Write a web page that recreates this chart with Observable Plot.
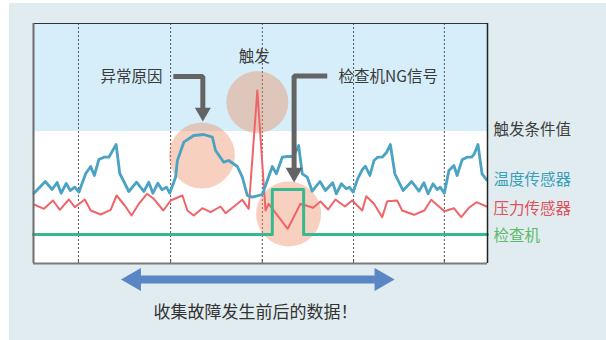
<!DOCTYPE html>
<html><head><meta charset="utf-8">
<script src="https://cdn.jsdelivr.net/npm/d3@7"></script>
<script src="https://cdn.jsdelivr.net/npm/@observablehq/plot@0.6"></script>
<style>
html,body{margin:0;padding:0;background:#fff;}
#wrap{position:relative;width:606px;height:340px;overflow:hidden;}
#panel{position:absolute;left:9px;top:3px;width:597px;height:337px;background:#e0ecef;}
#chart{position:absolute;left:0;top:0;}
</style></head>
<body><div id="wrap"><div id="panel"></div><div id="chart"></div></div>
<script>
// ---- data (time units 0..100, value units 0..240) ----
const timeDomain = [0, 100];
const valueDomain = [0, 240];
const triggerValue = 132;
const gridTimes = [9.9, 30.2, 50.4, 70.5, 90.5];

const temperature = [
 [0.1,70.3],[2.6,82],[4.1,74],[5.2,81],[6.1,70.3],[7.2,80],[8.1,73],[9.1,76.3],[10.0,71.3],
 [11.5,90],[12.6,97],[13.4,88],[14.4,104],[15.5,106.3],[16.6,106.3],[18.2,119],[19.0,90],
 [21.0,72],[22.7,81.3],[24.3,72],[25.4,81.3],[26.3,70.3],[27.4,80.3],[28.3,73.7],[29.3,76.3],[30.0,70.3],
 [31.3,86.3],[31.7,103],[33.1,121.3],[35.3,128],[37.5,129],[39.4,126.3],[40.1,113],[41.9,101.3],[43.0,103],
 [44.9,97],[46.0,86.3],[47.1,68],[48.2,66.3],[50.4,69],[51.5,83],[52.6,97],[53.5,89.7],[54.8,106.3],
 [55.9,107],[57.3,107],[58.4,118],[59.2,89.7],[60.3,86.3],[61.4,72.3],[63.1,82],[64.3,73],[65.9,80.7],
 [66.7,69.7],[67.8,79.7],[68.9,74.7],[69.6,76.3],[70.4,71.3],[71.4,84.7],[72.4,93.7],[73.1,97.3],[74.1,88],
 [75.0,103],[75.8,106.3],[76.8,106.3],[77.8,111.3],[78.6,119],[79.6,89.7],[81.4,73],[83.3,82],[84.9,72.3],
 [86.0,80.7],[86.9,69.7],[88.0,79.7],[88.9,74],[89.6,76.3],[90.5,70.3],[91.5,93],[92.6,98],[93.3,88],
 [94.4,103.7],[95.5,106.3],[96.5,106.3],[97.1,109.7],[97.9,119],[98.8,89.7],[99.8,83.7]
];
const pressure = [
 [0.1,59],[2.3,54.7],[4.3,63],[5.8,53.7],[7.8,64],[9.1,56.3],[11.3,64],[12.6,53],[14.8,49],[17.0,53.7],
 [18.3,68],[20.1,58],[21.6,48],[23.2,59.7],[25.0,69.7],[26.5,64.7],[28.6,53],[30.2,63],[32.8,68],[33.9,53],
 [35.3,48],[37.2,55.3],[39.0,51.3],[41.2,57],[42.3,50.3],[46.0,63.7],[47.4,54.7],[49.3,173],[51.1,53],
 [51.8,59.7],[56.0,34.7],[58.8,59.7],[61.6,55.7],[63.2,62],[64.9,54],[66.5,64],[68.6,57],[70.2,63],
 [72.4,53],[73.3,67.3],[75.0,59.7],[76.8,46.3],[77.9,62.3],[80.1,63],[81.2,53],[83.8,48.7],[86.1,53],
 [87.6,63.7],[90.5,52.3],[92.6,55.3],[94.2,46.3],[95.9,55.7],[97.6,61.3],[99.8,57]
];
const inspector = [[0,29],[52.6,74],[59.5,29],[100,29]];

const highlightCircles = [
 {name:"异常原因", t:37.1, v:108, r:33},
 {name:"触发", t:49.3, v:161.3, r:31},
 {name:"检查机NG信号", t:56.2, v:49.5, r:32.5}
];
const arrowPaths = [
 {id:"a", pts:[[30.8,187],[37.3,187],[37.3,154]], head:[37.3,151.2], r:5.94},
 {id:"b", pts:[[64.7,187.5],[57.4,187.5],[57.4,94]], head:[57.4,90.8], r:6.3}
];
const calloutLabels = [
 {text:"异常原因", t:28.4, v:186, anchor:"end"},
 {text:"触发", t:48.6, v:206, anchor:"middle"},
 {text:"检查机NG信号", t:67.2, v:186, anchor:"start"}
];
const seriesLabels = [
 {text:"触发条件值", v:133.5, color:"#3d3d3d"},
 {text:"温度传感器", v:83, color:"#3a9fb8"},
 {text:"压力传感器", v:54, color:"#e2505a"},
 {text:"检查机", v:27, color:"#5dba6a"}
];
const spanArrow = {from:23, to:76, v:-16, leftHead:22.2, rightHead:76.6, r:8.58};
const caption = {text:"收集故障发生前后的数据！", t:48.9, v:-48.7};
const labelTime = 101.3;

const F = "'Noto Sans CJK SC','Noto Sans',sans-serif";
const toObj = arr => arr.map(([t, v]) => ({t, v}));

const arrowMarks = arrowPaths.flatMap(a => [
  Plot.line(toObj(a.pts), {x:"t", y:"v", stroke:"#646464", strokeWidth:5, strokeLinejoin:"miter", strokeLinecap:"butt"}),
  Plot.dot([a.head], {x:d=>d[0], y:d=>d[1], r:a.r, symbol:"triangle", fill:"#646464", stroke:null, rotate:180})
]);
const calloutMarks = ["start", "middle", "end"].map(anchor =>
  Plot.text(calloutLabels.filter(d => d.anchor === anchor), {x:"t", y:"v", text:"text", textAnchor:anchor, fontSize:15.5, fill:"#3a3a3a", fontFamily:F})
);

const chart = Plot.plot({
  width:606, height:340,
  marginLeft:33, marginRight:119, marginTop:23, marginBottom:77,
  x:{domain:timeDomain, axis:null},
  y:{domain:valueDomain, axis:null},
  r:{type:"identity"},
  color:{type:"identity"},
  style:{background:"transparent", fontFamily:F, overflow:"visible"},
  marks:[
    Plot.rect([0], {x1:timeDomain[0], x2:timeDomain[1], y1:valueDomain[0], y2:triggerValue, fill:"#ffffff"}),
    Plot.rect([0], {x1:timeDomain[0], x2:timeDomain[1], y1:triggerValue, y2:valueDomain[1], fill:"#d5eef9"}),
    Plot.ruleX(gridTimes, {stroke:"#555", strokeDasharray:"2,2", strokeWidth:1}),
    Plot.ruleX(gridTimes, {y1:valueDomain[0], y2:4, stroke:"#555", strokeWidth:1}),
    Plot.dot(highlightCircles, {x:"t", y:"v", r:"r", fill:"#ee8a5e", fillOpacity:0.4, stroke:null}),
    Plot.line(toObj(pressure), {x:"t", y:"v", stroke:"#ef6468", strokeWidth:2}),
    Plot.line(toObj(temperature), {x:"t", y:"v", stroke:"#4ba3c3", strokeWidth:2.8}),
    Plot.line(toObj(inspector), {x:"t", y:"v", curve:"step-after", stroke:"#36b98f", strokeWidth:3}),
    Plot.ruleY([valueDomain[1]], {stroke:"#333", strokeWidth:1}),
    Plot.ruleX([timeDomain[1]], {stroke:"#222", strokeWidth:1.5}),
    Plot.ruleX([timeDomain[0]], {stroke:"#6d6d6d", strokeWidth:2}),
    Plot.ruleY([valueDomain[0]], {stroke:"#7a7a7a", strokeWidth:2}),
    ...arrowMarks,
    ...calloutMarks,
    Plot.text(seriesLabels, {x:labelTime, y:"v", text:"text", textAnchor:"start", fontSize:15.5, fill:"color", fontFamily:F}),
    Plot.line([[spanArrow.from, spanArrow.v],[spanArrow.to, spanArrow.v]], {x:d=>d[0], y:d=>d[1], stroke:"#5b86c5", strokeWidth:8}),
    Plot.dot([[spanArrow.leftHead, spanArrow.v, -90],[spanArrow.rightHead, spanArrow.v, 90]], {x:d=>d[0], y:d=>d[1], rotate:d=>d[2], r:spanArrow.r, symbol:"triangle", fill:"#5b86c5", stroke:null}),
    Plot.text([caption], {x:"t", y:"v", text:"text", fontSize:17, fill:"#333", fontFamily:F})
  ]
});
document.getElementById("chart").appendChild(chart);
</script>
</body></html>
